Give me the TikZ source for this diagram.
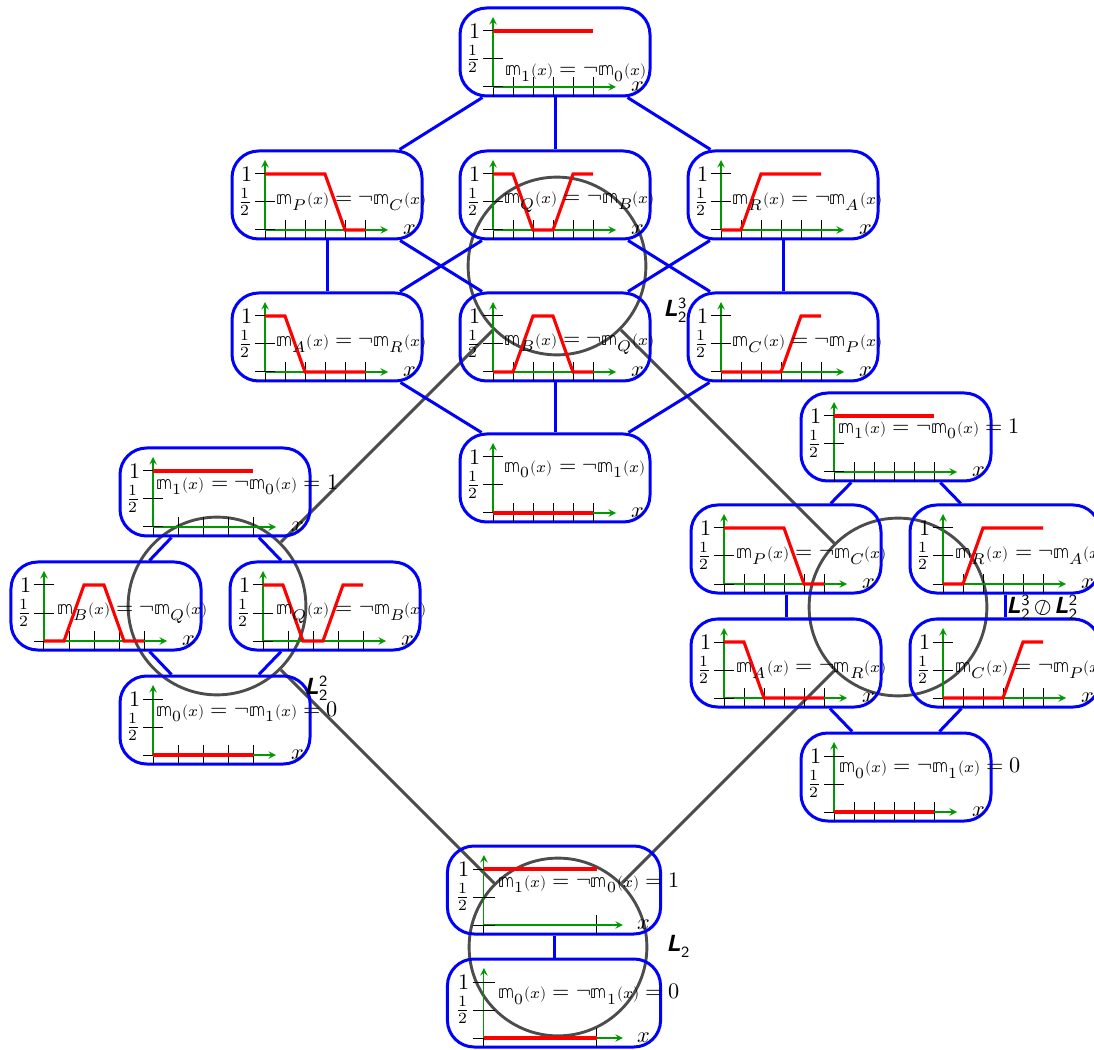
\documentclass[tikz,border=0pt]{standalone}
\usepackage{amsmath}
\usepackage{unicode-math}
\setmathfont{Latin Modern Math}
\newfontfamily\lfont{TeX Gyre Heros}
\usetikzlibrary{calc}

% membership function symbol
\newcommand{\mmx}[1]{\symbb{m}_{#1}{\scriptstyle(x)}}
\newcommand{\latname}[2]{{\lfont\bfseries\itshape L}$_{\mathsf{#1}}^{\mathsf{#2}}$}

% small plot inside a box: #1 box, #2 x stretch, #3 x ticks, #4 red path, #5 text position, #6 text
\newcommand{\memplot}[6]{%
  \begin{scope}[shift={(#1.center)}, xshift=-27.9pt*#2, yshift=-15.75pt, x=9pt*#2, y=25.2pt]
    \foreach \k in {#3} \draw[tickmark] (\k,-0.18) -- (\k,0.18);
    \draw[plotaxis] (0,0) -- (6.15,0) node[right=6.5pt, inner sep=0pt, text=black] (#1-x) {$x$};
    \draw[plotaxis] (0,0) -- (0,1.25);
    \foreach \v in {0,0.5,1} \draw[tickmark] (-0.5,\v) -- (0.5,\v);
    \node[left, inner sep=1pt] (#1-one) at (-0.5,1) {$1$};
    \node[left, inner sep=1pt] (#1-half) at (-0.5,0.5) {$\frac{1}{2}$};
    \draw[func] #4;
    \node[anchor=west] (#1-lbl) at #5 {#6};
  \end{scope}}

\begin{document}
\begin{tikzpicture}[
    x=0.45pt, y=-0.45pt,
    membox/.style={
        rectangle,
        rounded corners=12pt,
        draw=blue,
        line width=1.35pt,
        minimum width=85.5pt,
        minimum height=39.6pt,
        inner sep=0pt
    },
    widebox/.style={membox, minimum width=95.9pt},
    link/.style={blue, line width=1.35pt},
    ring/.style={
        circle,
        draw=black!70,
        line width=1.3pt,
        minimum size=80pt,
        inner sep=0pt
    },
    ringlink/.style={black!70, line width=1.3pt},
    plotaxis/.style={->, >=stealth, green!60!black, line width=0.5pt},
    tickmark/.style={black, line width=0.45pt},
    func/.style={red, line width=1.4pt},
    latlabel/.style={inner sep=1pt}
]
\useasboundingbox (0,0) rectangle (1094,1050);

% Circles round the four lattices
\node[ring] (c1) at (557,266) {};
\node[ring] (c2) at (217,606) {};
\node[ring] (c3) at (898,607) {};
\node[ring] (c4) at (558,947) {};

\draw[ringlink] (c1) -- (c2);
\draw[ringlink] (c1) -- (c3);
\draw[ringlink] (c2) -- (c4);
\draw[ringlink] (c3) -- (c4);

% L_2^3 boxes
\node[membox] (e1) at (555,52) {};
\node[membox] (eP) at (327,195) {};
\node[membox] (eQ) at (555,195) {};
\node[membox] (eR) at (783,195) {};
\node[membox] (eA) at (327,337) {};
\node[membox] (eB) at (555,337) {};
\node[membox] (eC) at (783,337) {};
\node[membox] (e0) at (555,478) {};

% L_2^2 boxes
\node[membox] (f1) at (215,492) {};
\node[membox] (fB) at (106,606) {};
\node[membox] (fQ) at (325,606) {};
\node[membox] (f0) at (215,720) {};

% Product boxes
\node[membox] (g1) at (896,437) {};
\node[membox] (gP) at (786,549) {};
\node[membox] (gR) at (1005,549) {};
\node[membox] (gA) at (786,663) {};
\node[membox] (gC) at (1005,663) {};
\node[membox] (g0) at (896,777) {};

% L_2 boxes
\node[widebox] (h1) at (554,890) {};
\node[widebox] (h0) at (554,1003) {};

% Lattice edges
\draw[link] (e1) -- (eP);
\draw[link] (e1) -- (eQ);
\draw[link] (e1) -- (eR);
\draw[link] (eP) -- (eA);
\draw[link] (eP) -- (eB);
\draw[link] (eQ) -- (eA);
\draw[link] (eQ) -- (eC);
\draw[link] (eR) -- (eB);
\draw[link] (eR) -- (eC);
\draw[link] (eA) -- (e0);
\draw[link] (eB) -- (e0);
\draw[link] (eC) -- (e0);

\draw[link] (f1) -- (fB);
\draw[link] (f1) -- (fQ);
\draw[link] (fB) -- (f0);
\draw[link] (fQ) -- (f0);

\draw[link] (g1) -- (gP);
\draw[link] (g1) -- (gR);
\draw[link] (gP) -- (gA);
\draw[link] (gR) -- (gC);
\draw[link] (gA) -- (g0);
\draw[link] (gC) -- (g0);

\draw[link] (h1) -- (h0);

% Plots
\memplot{e1}{1}{0,...,5}{(0,1) -- (5,1)}{(0.23,0.25)}{$\mmx{1} = \neg\mmx{0}$}
\memplot{eP}{1}{0,...,5}{(0,1) -- (3,1) -- (4,0) -- (5,0)}{(0.18,0.5)}{$\mmx{P} = \neg\mmx{C}$}
\memplot{eQ}{1}{0,...,5}{(0,1) -- (1,1) -- (2,0) -- (3,0) -- (4,1) -- (5,1)}{(0.18,0.5)}{$\mmx{Q} = \neg\mmx{B}$}
\memplot{eR}{1}{0,...,5}{(0,0) -- (1,0) -- (2,1) -- (5,1)}{(0.18,0.5)}{$\mmx{R} = \neg\mmx{A}$}
\memplot{eA}{1}{0,...,5}{(0,1) -- (1,1) -- (2,0) -- (5,0)}{(0.18,0.5)}{$\mmx{A} = \neg\mmx{R}$}
\memplot{eB}{1}{0,...,5}{(0,0) -- (1,0) -- (2,1) -- (3,1) -- (4,0) -- (5,0)}{(0.18,0.5)}{$\mmx{B} = \neg\mmx{Q}$}
\memplot{eC}{1}{0,...,5}{(0,0) -- (3,0) -- (4,1) -- (5,1)}{(0.18,0.5)}{$\mmx{C} = \neg\mmx{P}$}
\memplot{e0}{1}{0,...,5}{(0,0) -- (5,0)}{(0.2,0.78)}{$\mmx{0} = \neg\mmx{1}$}

\memplot{f1}{1}{0,1.25,2.5,3.75,5}{(0,1) -- (5,1)}{(-0.2,0.75)}{$\mmx{1} = \neg\mmx{0} = 1$}
\memplot{fB}{1}{0,1.25,2.5,3.75,5}{(0,0) -- (1,0) -- (2,1) -- (3,1) -- (4,0) -- (5,0)}{(0.28,0.5)}{$\mmx{B} = \neg\mmx{Q}$}
\memplot{fQ}{1}{0,1.25,2.5,3.75,5}{(0,1) -- (1,1) -- (2,0) -- (3,0) -- (4,1) -- (5,1)}{(0.28,0.5)}{$\mmx{Q} = \neg\mmx{B}$}
\memplot{f0}{1}{0,1.25,2.5,3.75,5}{(0,0) -- (5,0)}{(-0.22,0.77)}{$\mmx{0} = \neg\mmx{1} = 0$}

\memplot{g1}{1}{0,...,5}{(0,1) -- (5,1)}{(-0.17,0.77)}{$\mmx{1} = \neg\mmx{0} = 1$}
\memplot{gP}{1}{0,...,5}{(0,1) -- (3,1) -- (4,0) -- (5,0)}{(0.25,0.5)}{$\mmx{P} = \neg\mmx{C}$}
\memplot{gR}{1}{0,...,5}{(0,0) -- (1,0) -- (2,1) -- (5,1)}{(0.25,0.5)}{$\mmx{R} = \neg\mmx{A}$}
\memplot{gA}{1}{0,...,5}{(0,1) -- (1,1) -- (2,0) -- (5,0)}{(0.25,0.5)}{$\mmx{A} = \neg\mmx{R}$}
\memplot{gC}{1}{0,...,5}{(0,0) -- (3,0) -- (4,1) -- (5,1)}{(0.25,0.5)}{$\mmx{C} = \neg\mmx{P}$}
\memplot{g0}{1}{0,...,5}{(0,0) -- (5,0)}{(-0.12,0.78)}{$\mmx{0} = \neg\mmx{1} = 0$}

\memplot{h1}{1.13}{0,5}{(0,1) -- (5,1)}{(0.29,0.75)}{$\mmx{1} = \neg\mmx{0} = 1$}
\memplot{h0}{1.13}{0,5}{(0,0) -- (5,0)}{(0.29,0.78)}{$\mmx{0} = \neg\mmx{1} = 0$}

% Lattice names
\node[latlabel] (c1-lbl) at ($(c1)+(119,44)$) {\latname{2}{3}};
\node[latlabel] (c2-lbl) at ($(c2)+(100,82)$) {\latname{2}{2}};
\node[latlabel] (c3-lbl) at ($(c3)+(145,0)$) {\latname{2}{3}\,$\oslash$\,\latname{2}{2}};
\node[latlabel] (c4-lbl) at ($(c4)+(121,-1)$) {\latname{2}{}};

\end{tikzpicture}
\end{document}
